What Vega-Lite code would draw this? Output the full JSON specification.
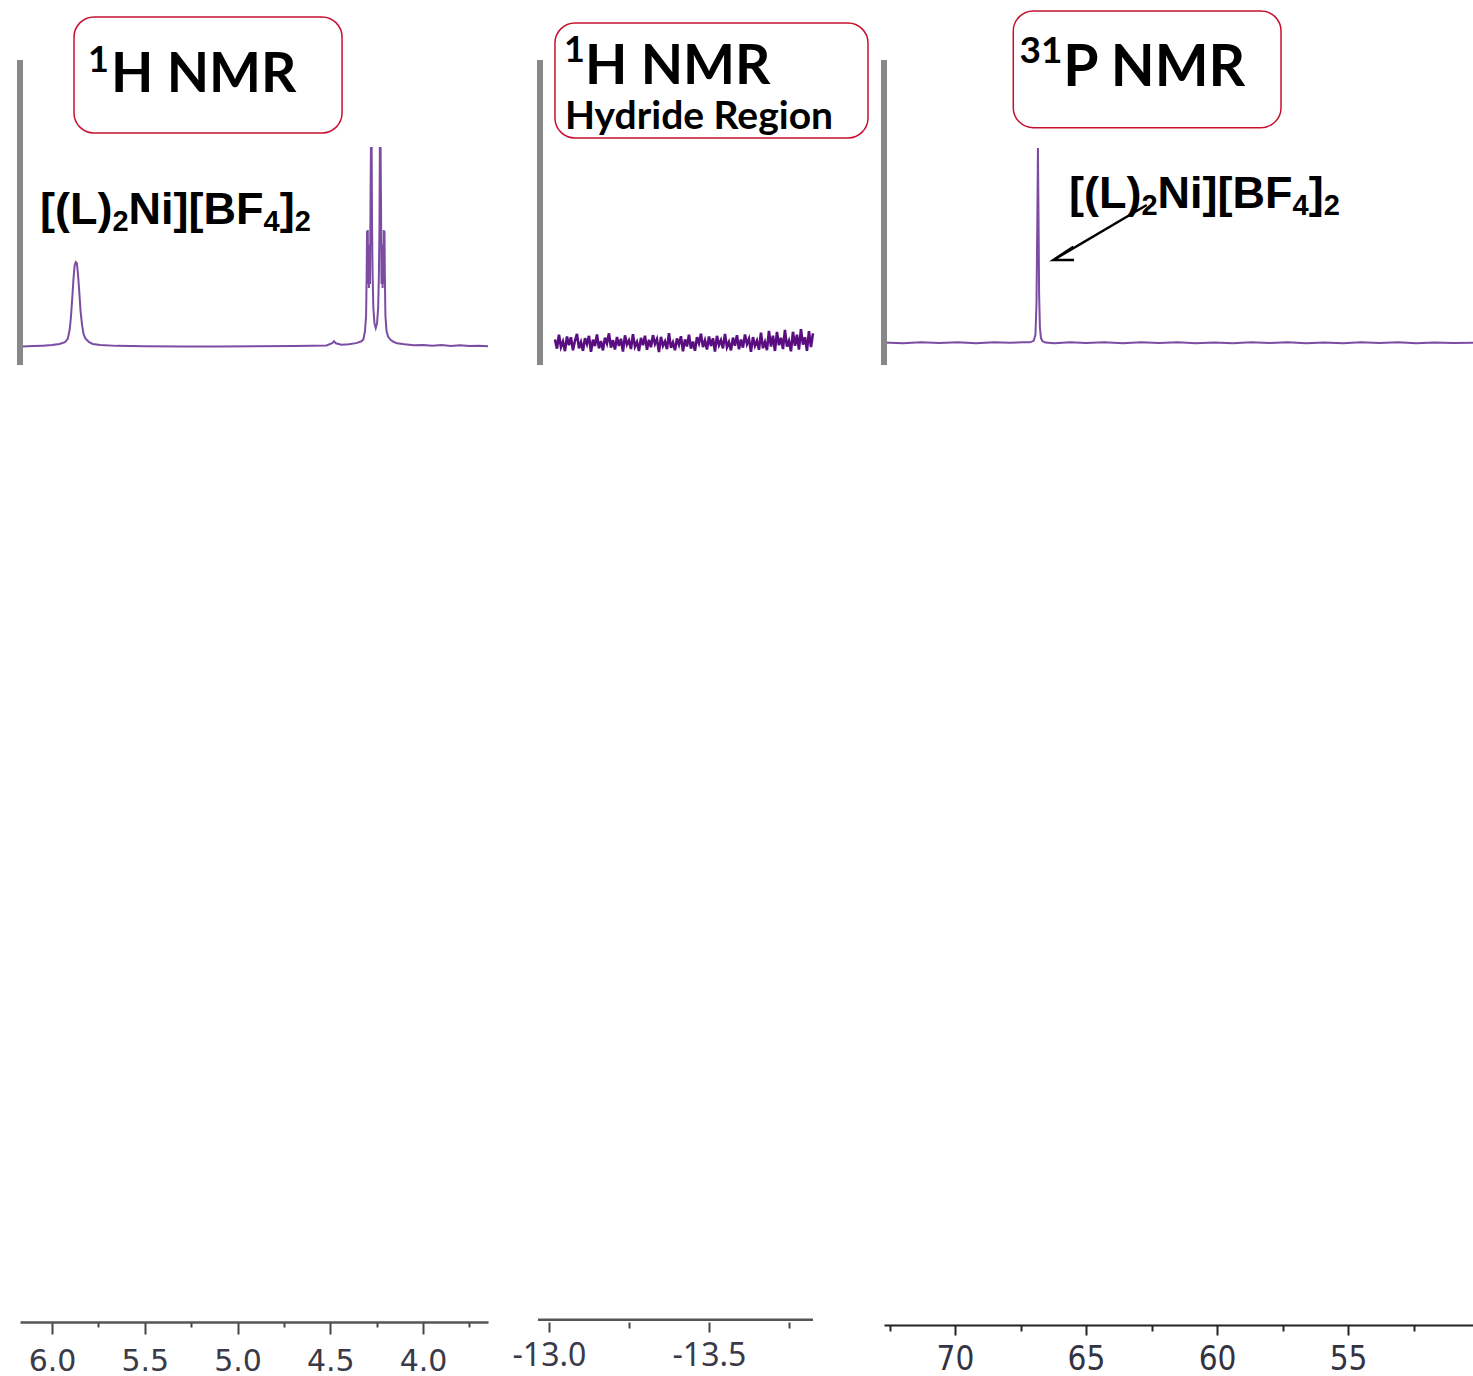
{
  "$schema": "https://vega.github.io/schema/vega-lite/v6.json",
  "background": "white",
  "padding": {"left": 17, "right": 0, "top": 0, "bottom": 0},
  "autosize": {"type": "pad"},
  "spacing": 52,
  "bounds": "flush",
  "config": {"view": {"stroke": null}, "axis": {"grid": false}},
  "hconcat": [
    {
      "width": 468,
      "height": 1322,
      "encoding": {
        "x": {"field": "ppm", "type": "quantitative", "scale": {"domain": [6.1725, 3.65], "nice": false, "zero": false},
          "axis": {"values": [6.0, 5.75, 5.5, 5.25, 5.0, 4.75, 4.5, 4.25, 4.0, 3.75],
            "labelExpr": "abs(datum.value*2-round(datum.value*2))<0.001 ? format(datum.value,'.1f') : ''",
            "title": null, "grid": false, "domainColor": "#555555", "domainWidth": 2.5, "tickColor": "#444444", "tickWidth": 2,
            "tickSize": {"condition": {"test": "abs(datum.value*2-round(datum.value*2))<0.001", "value": 12}, "value": 5},
            "labelFont": "DejaVu Sans", "labelFontSize": 30, "labelColor": "#3a3a48", "labelPadding": 12, "labelFlush": false, "labelOverlap": false}},
        "y": {"field": "v", "type": "quantitative", "scale": {"domain": [-500, 175], "nice": false, "zero": false}, "axis": null}
      },
      "layer": [
        {
          "data": {"values": [
            {"ppm": 6.162, "v": -1.9}, {"ppm": 6.10, "v": -1.7}, {"ppm": 6.05, "v": -1.5}, {"ppm": 6.00, "v": -1.2}, {"ppm": 5.96, "v": -0.6},
            {"ppm": 5.93, "v": 0.3}, {"ppm": 5.915, "v": 2.0}, {"ppm": 5.905, "v": 6.5}, {"ppm": 5.898, "v": 13.0}, {"ppm": 5.890, "v": 24.0},
            {"ppm": 5.884, "v": 33.0}, {"ppm": 5.878, "v": 39.5}, {"ppm": 5.872, "v": 41.2}, {"ppm": 5.866, "v": 40.6}, {"ppm": 5.860, "v": 35.0},
            {"ppm": 5.853, "v": 26.0}, {"ppm": 5.846, "v": 16.0}, {"ppm": 5.838, "v": 9.0}, {"ppm": 5.830, "v": 4.5}, {"ppm": 5.820, "v": 2.2},
            {"ppm": 5.80, "v": 0.3}, {"ppm": 5.78, "v": -0.6}, {"ppm": 5.74, "v": -1.2}, {"ppm": 5.65, "v": -1.6}, {"ppm": 5.50, "v": -1.8},
            {"ppm": 5.30, "v": -1.9}, {"ppm": 5.10, "v": -1.9}, {"ppm": 4.90, "v": -1.8}, {"ppm": 4.70, "v": -1.7}, {"ppm": 4.60, "v": -1.6},
            {"ppm": 4.52, "v": -1.4}, {"ppm": 4.49, "v": -0.2}, {"ppm": 4.48, "v": 0.8}, {"ppm": 4.47, "v": -0.3}, {"ppm": 4.44, "v": -1.0},
            {"ppm": 4.40, "v": -0.8}, {"ppm": 4.36, "v": -0.2}, {"ppm": 4.335, "v": 0.6}, {"ppm": 4.322, "v": 1.6}, {"ppm": 4.313, "v": 6.0},
            {"ppm": 4.307, "v": 14.0}, {"ppm": 4.304, "v": 35.0}, {"ppm": 4.302, "v": 57.0}, {"ppm": 4.300, "v": 32.0}, {"ppm": 4.298, "v": 57.5},
            {"ppm": 4.296, "v": 30.0}, {"ppm": 4.294, "v": 50.0}, {"ppm": 4.292, "v": 28.0}, {"ppm": 4.289, "v": 45.0}, {"ppm": 4.286, "v": 30.0},
            {"ppm": 4.283, "v": 75.0}, {"ppm": 4.281, "v": 99.9}, {"ppm": 4.279, "v": 70.0}, {"ppm": 4.277, "v": 99.9}, {"ppm": 4.275, "v": 60.0},
            {"ppm": 4.272, "v": 35.0}, {"ppm": 4.268, "v": 18.0}, {"ppm": 4.262, "v": 10.0}, {"ppm": 4.255, "v": 7.5}, {"ppm": 4.248, "v": 10.0},
            {"ppm": 4.242, "v": 18.0}, {"ppm": 4.238, "v": 35.0}, {"ppm": 4.235, "v": 60.0}, {"ppm": 4.233, "v": 99.9}, {"ppm": 4.231, "v": 70.0},
            {"ppm": 4.229, "v": 99.9}, {"ppm": 4.227, "v": 75.0}, {"ppm": 4.224, "v": 30.0}, {"ppm": 4.221, "v": 45.0}, {"ppm": 4.218, "v": 28.0},
            {"ppm": 4.216, "v": 50.0}, {"ppm": 4.214, "v": 30.0}, {"ppm": 4.212, "v": 57.5}, {"ppm": 4.210, "v": 32.0}, {"ppm": 4.208, "v": 57.0},
            {"ppm": 4.206, "v": 35.0}, {"ppm": 4.203, "v": 14.0}, {"ppm": 4.197, "v": 6.0}, {"ppm": 4.188, "v": 3.0}, {"ppm": 4.175, "v": 1.5},
            {"ppm": 4.160, "v": 0.5}, {"ppm": 4.140, "v": -0.3}, {"ppm": 4.10, "v": -0.8}, {"ppm": 4.05, "v": -1.3}, {"ppm": 4.00, "v": -1.1},
            {"ppm": 3.95, "v": -1.5}, {"ppm": 3.90, "v": -1.2}, {"ppm": 3.85, "v": -1.6}, {"ppm": 3.80, "v": -1.3}, {"ppm": 3.75, "v": -1.7},
            {"ppm": 3.70, "v": -1.5}, {"ppm": 3.65, "v": -1.8}
          ]},
          "mark": {"type": "line", "color": "#7b4ca2", "strokeWidth": 2}
        },
        {
          "data": {"values": [{"ppm": 6.1725, "v": 144.4, "v2": -11.4}]},
          "mark": {"type": "rule", "color": "#888888", "strokeWidth": 6},
          "encoding": {"y2": {"field": "v2"}}
        },
        {
          "data": {"values": [{"ppm": 5.8814, "ppm2": 4.4367, "v": 166.32, "v2": 107.09}]},
          "mark": {"type": "rect", "fill": "white", "stroke": "#c8102e", "strokeWidth": 1.5, "cornerRadius": 20},
          "encoding": {"x2": {"field": "ppm2"}, "y2": {"field": "v2"}}
        },
        {
          "data": {"values": [{"ppm": 5.682, "v": 128.03, "label": "H NMR"}]},
          "mark": {"type": "text", "font": "Lato", "fontWeight": "bold", "fontSize": 55, "align": "left", "baseline": "alphabetic", "color": "black"},
          "encoding": {"text": {"field": "label"}}
        },
        {
          "data": {"values": [{"ppm": 5.806, "v": 138.39, "label": "1"}]},
          "mark": {"type": "text", "font": "Lato", "fontWeight": "bold", "fontSize": 36, "align": "left", "baseline": "alphabetic", "color": "black"},
          "encoding": {"text": {"field": "label"}}
        },
        {
          "data": {"values": [{"ppm": 6.0647, "v": 60.63}]},
          "layer": [
            {"mark": {"type": "text", "text": "[(L)", "font": "Liberation Sans", "fontWeight": "bold", "fontSize": 45, "align": "left", "baseline": "alphabetic", "color": "black"}},
            {"mark": {"type": "text", "text": "2", "dx": 72.5, "dy": 7, "font": "Liberation Sans", "fontWeight": "bold", "fontSize": 29, "align": "left", "baseline": "alphabetic", "color": "black"}},
            {"mark": {"type": "text", "text": "Ni][BF", "dx": 88.6, "font": "Liberation Sans", "fontWeight": "bold", "fontSize": 45, "align": "left", "baseline": "alphabetic", "color": "black"}},
            {"mark": {"type": "text", "text": "4", "dx": 223.6, "dy": 7, "font": "Liberation Sans", "fontWeight": "bold", "fontSize": 29, "align": "left", "baseline": "alphabetic", "color": "black"}},
            {"mark": {"type": "text", "text": "]", "dx": 239.7, "font": "Liberation Sans", "fontWeight": "bold", "fontSize": 45, "align": "left", "baseline": "alphabetic", "color": "black"}},
            {"mark": {"type": "text", "text": "2", "dx": 254.7, "dy": 7, "font": "Liberation Sans", "fontWeight": "bold", "fontSize": 29, "align": "left", "baseline": "alphabetic", "color": "black"}}
          ]
        }
      ]
    },
    {
      "width": 292,
      "height": 1322,
      "encoding": {
        "x": {"field": "ppm", "type": "quantitative", "scale": {"domain": [-12.972, -13.8845], "nice": false, "zero": false},
          "axis": {"values": [-13.0, -13.25, -13.5, -13.75],
            "labelExpr": "abs(datum.value*2-round(datum.value*2))<0.001 ? '-' + format(abs(datum.value),'.1f') : ''",
            "title": null, "grid": false, "domain": false, "tickColor": "#444444", "tickWidth": 2,
            "tickSize": {"condition": {"test": "abs(datum.value*2-round(datum.value*2))<0.001", "value": 10}, "value": 6},
            "labelFont": "Noto Sans", "labelFontSize": 32, "labelColor": "#3a3a48", "labelPadding": 8, "labelFlush": false, "labelOverlap": false}},
        "y": {"field": "v", "type": "quantitative", "scale": {"domain": [-500, 175], "nice": false, "zero": false}, "axis": null}
      },
      "layer": [
        {
          "data": {"values": [{"ppm": -12.9656, "ppm2": -13.825, "v": -498.8}]},
          "mark": {"type": "rule", "color": "#555555", "strokeWidth": 2.5},
          "encoding": {"x2": {"field": "ppm2"}}
        },
        {
          "data": {"values": [
            {"ppm": -13.01875, "v": 1.7}, {"ppm": -13.025, "v": -3.0}, {"ppm": -13.03125, "v": 4.1}, {"ppm": -13.0375, "v": -2.2}, {"ppm": -13.04375, "v": 0.6},
            {"ppm": -13.05, "v": -4.3}, {"ppm": -13.05625, "v": 3.2}, {"ppm": -13.0625, "v": -1.2}, {"ppm": -13.06875, "v": 2.8}, {"ppm": -13.075, "v": -3.8},
            {"ppm": -13.08125, "v": 1.0}, {"ppm": -13.0875, "v": 4.5}, {"ppm": -13.09375, "v": -2.8}, {"ppm": -13.1, "v": 0.3}, {"ppm": -13.10625, "v": -4.1},
            {"ppm": -13.1125, "v": 2.3}, {"ppm": -13.11875, "v": -0.7}, {"ppm": -13.125, "v": 3.5}, {"ppm": -13.13125, "v": -4.6}, {"ppm": -13.1375, "v": 1.6},
            {"ppm": -13.14375, "v": -1.7}, {"ppm": -13.15, "v": 4.2}, {"ppm": -13.15625, "v": -2.9}, {"ppm": -13.1625, "v": 0.9}, {"ppm": -13.16875, "v": -3.9},
            {"ppm": -13.175, "v": 2.6}, {"ppm": -13.18125, "v": -0.4}, {"ppm": -13.1875, "v": 4.8}, {"ppm": -13.19375, "v": -2.5}, {"ppm": -13.2, "v": 1.3},
            {"ppm": -13.20625, "v": -3.5}, {"ppm": -13.2125, "v": 2.9}, {"ppm": -13.21875, "v": -1.6}, {"ppm": -13.225, "v": 2.0}, {"ppm": -13.23125, "v": -4.5},
            {"ppm": -13.2375, "v": 3.8}, {"ppm": -13.24375, "v": -0.9}, {"ppm": -13.25, "v": 1.2}, {"ppm": -13.25625, "v": -3.2}, {"ppm": -13.2625, "v": 4.4},
            {"ppm": -13.26875, "v": -2.0}, {"ppm": -13.275, "v": 0.4}, {"ppm": -13.28125, "v": -4.2}, {"ppm": -13.2875, "v": 2.5}, {"ppm": -13.29375, "v": -1.3},
            {"ppm": -13.3, "v": 3.6}, {"ppm": -13.30625, "v": -3.6}, {"ppm": -13.3125, "v": 1.5}, {"ppm": -13.31875, "v": -2.3}, {"ppm": -13.325, "v": 3.9},
            {"ppm": -13.33125, "v": -0.6}, {"ppm": -13.3375, "v": 1.9}, {"ppm": -13.34375, "v": -4.8}, {"ppm": -13.35, "v": 3.0}, {"ppm": -13.35625, "v": -1.5},
            {"ppm": -13.3625, "v": 0.7}, {"ppm": -13.36875, "v": -3.3}, {"ppm": -13.375, "v": 4.9}, {"ppm": -13.38125, "v": -2.6}, {"ppm": -13.3875, "v": 0.1},
            {"ppm": -13.39375, "v": -3.8}, {"ppm": -13.4, "v": 2.2}, {"ppm": -13.40625, "v": -1.0}, {"ppm": -13.4125, "v": 3.3}, {"ppm": -13.41875, "v": -4.4},
            {"ppm": -13.425, "v": 1.7}, {"ppm": -13.43125, "v": -1.9}, {"ppm": -13.4375, "v": 4.1}, {"ppm": -13.44375, "v": -3.0}, {"ppm": -13.45, "v": 0.6},
            {"ppm": -13.45625, "v": -4.1}, {"ppm": -13.4625, "v": 2.8}, {"ppm": -13.46875, "v": -0.3}, {"ppm": -13.475, "v": 4.6}, {"ppm": -13.48125, "v": -2.2},
            {"ppm": -13.4875, "v": 1.2}, {"ppm": -13.49375, "v": -3.5}, {"ppm": -13.5, "v": 3.2}, {"ppm": -13.50625, "v": -1.7}, {"ppm": -13.5125, "v": 2.3},
            {"ppm": -13.51875, "v": -4.5}, {"ppm": -13.525, "v": 3.5}, {"ppm": -13.53125, "v": -1.2}, {"ppm": -13.5375, "v": 1.3}, {"ppm": -13.54375, "v": -2.9},
            {"ppm": -13.55, "v": 4.5}, {"ppm": -13.55625, "v": -2.3}, {"ppm": -13.5625, "v": 0.3}, {"ppm": -13.56875, "v": -3.9}, {"ppm": -13.575, "v": 2.6},
            {"ppm": -13.58125, "v": -1.5}, {"ppm": -13.5875, "v": 3.8}, {"ppm": -13.59375, "v": -3.3}, {"ppm": -13.6, "v": 1.6}, {"ppm": -13.60625, "v": -2.5},
            {"ppm": -13.6125, "v": 4.2}, {"ppm": -13.61875, "v": -0.7}, {"ppm": -13.625, "v": 2.0}, {"ppm": -13.63125, "v": -4.6}, {"ppm": -13.6375, "v": 2.9},
            {"ppm": -13.64375, "v": -1.6}, {"ppm": -13.65, "v": 1.0}, {"ppm": -13.65625, "v": -3.6}, {"ppm": -13.6625, "v": 5.1}, {"ppm": -13.66875, "v": -2.8},
            {"ppm": -13.675, "v": 0.4}, {"ppm": -13.68125, "v": -3.8}, {"ppm": -13.6875, "v": 6.0}, {"ppm": -13.69375, "v": -1.9}, {"ppm": -13.7, "v": 3.6},
            {"ppm": -13.70625, "v": -4.2}, {"ppm": -13.7125, "v": 5.5}, {"ppm": -13.71875, "v": -1.3}, {"ppm": -13.725, "v": 2.5}, {"ppm": -13.73125, "v": -3.2},
            {"ppm": -13.7375, "v": 6.5}, {"ppm": -13.74375, "v": -2.0}, {"ppm": -13.75, "v": 0.9}, {"ppm": -13.75625, "v": -4.4}, {"ppm": -13.7625, "v": 5.6},
            {"ppm": -13.76875, "v": -1.6}, {"ppm": -13.775, "v": 4.1}, {"ppm": -13.78125, "v": -3.5}, {"ppm": -13.7875, "v": 6.9}, {"ppm": -13.79375, "v": -1.0},
            {"ppm": -13.8, "v": 2.8}, {"ppm": -13.80625, "v": -4.1}, {"ppm": -13.8125, "v": 5.9}, {"ppm": -13.81875, "v": -2.2}, {"ppm": -13.825, "v": 4.8}
          ]},
          "mark": {"type": "line", "color": "#5a0d80", "strokeWidth": 2.6}
        },
        {
          "data": {"values": [{"ppm": -12.972, "v": 144.4, "v2": -11.4}]},
          "mark": {"type": "rule", "color": "#888888", "strokeWidth": 6},
          "encoding": {"y2": {"field": "v2"}}
        },
        {
          "data": {"values": [{"ppm": -13.01875, "ppm2": -13.997, "v": 163.26, "v2": 104.54}]},
          "mark": {"type": "rect", "fill": "white", "stroke": "#c8102e", "strokeWidth": 1.5, "cornerRadius": 20},
          "encoding": {"x2": {"field": "ppm2"}, "y2": {"field": "v2"}}
        },
        {
          "data": {"values": [{"ppm": -13.1125, "v": 132.3, "label": "H NMR"}]},
          "mark": {"type": "text", "font": "Lato", "fontWeight": "bold", "fontSize": 55, "align": "left", "baseline": "alphabetic", "color": "black"},
          "encoding": {"text": {"field": "label"}}
        },
        {
          "data": {"values": [{"ppm": -13.047, "v": 143.3, "label": "1"}]},
          "mark": {"type": "text", "font": "Lato", "fontWeight": "bold", "fontSize": 36, "align": "left", "baseline": "alphabetic", "color": "black"},
          "encoding": {"text": {"field": "label"}}
        },
        {
          "data": {"values": [{"ppm": -13.05, "v": 108.9, "label": "Hydride Region"}]},
          "mark": {"type": "text", "font": "Lato", "fontWeight": "bold", "fontSize": 39, "align": "left", "baseline": "alphabetic", "color": "black"},
          "encoding": {"text": {"field": "label"}}
        }
      ]
    },
    {
      "width": 589,
      "height": 1325,
      "encoding": {
        "x": {"field": "ppm", "type": "quantitative", "scale": {"domain": [72.71, 50.23], "nice": false, "zero": false},
          "axis": {"values": [72.5, 70, 67.5, 65, 62.5, 60, 57.5, 55, 52.5],
            "labelExpr": "datum.value % 5 === 0 ? format(datum.value,'d') : ''",
            "title": null, "grid": false, "domainColor": "#222222", "domainWidth": 2.2, "tickColor": "#222222", "tickWidth": 2,
            "tickSize": {"condition": {"test": "datum.value % 5 === 0", "value": 10}, "value": 6},
            "labelFont": "Liberation Sans Narrow, DejaVu Sans Condensed, Liberation Sans", "labelFontSize": 33, "labelColor": "#33333f", "labelPadding": 8, "labelFlush": false, "labelOverlap": false}},
        "y": {"field": "v", "type": "quantitative", "scale": {"domain": [-501.5, 175], "nice": false, "zero": false}, "axis": null}
      },
      "layer": [
        {
          "data": {"values": [
            {"ppm": 72.71, "v": 0.1}, {"ppm": 72.0, "v": -0.2}, {"ppm": 71.3, "v": 0.3}, {"ppm": 70.6, "v": -0.1}, {"ppm": 69.9, "v": 0.2},
            {"ppm": 69.2, "v": -0.3}, {"ppm": 68.5, "v": 0.2}, {"ppm": 67.9, "v": 0.0}, {"ppm": 67.4, "v": 0.3}, {"ppm": 67.14, "v": 0.2},
            {"ppm": 67.0, "v": 1.0}, {"ppm": 66.93, "v": 4.0}, {"ppm": 66.89, "v": 20.0}, {"ppm": 66.86, "v": 60.0}, {"ppm": 66.835, "v": 99.4},
            {"ppm": 66.81, "v": 60.0}, {"ppm": 66.79, "v": 25.0}, {"ppm": 66.76, "v": 8.0}, {"ppm": 66.72, "v": 2.5}, {"ppm": 66.66, "v": 0.8},
            {"ppm": 66.55, "v": 0.1}, {"ppm": 66.2, "v": -0.2}, {"ppm": 65.6, "v": 0.2}, {"ppm": 65.0, "v": -0.1}, {"ppm": 64.3, "v": 0.3},
            {"ppm": 63.6, "v": -0.2}, {"ppm": 62.9, "v": 0.2}, {"ppm": 62.2, "v": -0.1}, {"ppm": 61.5, "v": 0.3}, {"ppm": 60.8, "v": -0.2},
            {"ppm": 60.1, "v": 0.1}, {"ppm": 59.4, "v": -0.3}, {"ppm": 58.7, "v": 0.2}, {"ppm": 58.0, "v": -0.1}, {"ppm": 57.3, "v": 0.3},
            {"ppm": 56.6, "v": -0.2}, {"ppm": 55.9, "v": 0.1}, {"ppm": 55.2, "v": -0.2}, {"ppm": 54.5, "v": 0.2}, {"ppm": 53.8, "v": -0.1},
            {"ppm": 53.1, "v": 0.2}, {"ppm": 52.4, "v": -0.2}, {"ppm": 51.7, "v": 0.1}, {"ppm": 51.0, "v": -0.1}, {"ppm": 50.23, "v": 0.0}
          ]},
          "mark": {"type": "line", "color": "#7b4ca2", "strokeWidth": 2}
        },
        {
          "data": {"values": [{"ppm": 72.71, "v": 144.4, "v2": -11.4}]},
          "mark": {"type": "rule", "color": "#888888", "strokeWidth": 6},
          "encoding": {"y2": {"field": "v2"}}
        },
        {
          "data": {"values": [{"ppm": 67.775, "ppm2": 57.557, "v": 169.38, "v2": 109.8}]},
          "mark": {"type": "rect", "fill": "white", "stroke": "#c8102e", "strokeWidth": 1.5, "cornerRadius": 20},
          "encoding": {"x2": {"field": "ppm2"}, "y2": {"field": "v2"}}
        },
        {
          "data": {"values": [{"ppm": 65.87, "v": 131.09, "label": "P NMR"}]},
          "mark": {"type": "text", "font": "Lato", "fontWeight": "bold", "fontSize": 57, "align": "left", "baseline": "alphabetic", "color": "black"},
          "encoding": {"text": {"field": "label"}}
        },
        {
          "data": {"values": [{"ppm": 67.538, "v": 142.83, "label": "31"}]},
          "mark": {"type": "text", "font": "Lato", "fontWeight": "bold", "fontSize": 37, "align": "left", "baseline": "alphabetic", "color": "black"},
          "encoding": {"text": {"field": "label"}}
        },
        {
          "data": {"values": [{"ppm": 65.649, "v": 68.8}]},
          "layer": [
            {"mark": {"type": "text", "text": "[(L)", "font": "Liberation Sans", "fontWeight": "bold", "fontSize": 45, "align": "left", "baseline": "alphabetic", "color": "black"}},
            {"mark": {"type": "text", "text": "2", "dx": 72.5, "dy": 7, "font": "Liberation Sans", "fontWeight": "bold", "fontSize": 29, "align": "left", "baseline": "alphabetic", "color": "black"}},
            {"mark": {"type": "text", "text": "Ni][BF", "dx": 88.6, "font": "Liberation Sans", "fontWeight": "bold", "fontSize": 45, "align": "left", "baseline": "alphabetic", "color": "black"}},
            {"mark": {"type": "text", "text": "4", "dx": 223.6, "dy": 7, "font": "Liberation Sans", "fontWeight": "bold", "fontSize": 29, "align": "left", "baseline": "alphabetic", "color": "black"}},
            {"mark": {"type": "text", "text": "]", "dx": 239.7, "font": "Liberation Sans", "fontWeight": "bold", "fontSize": 45, "align": "left", "baseline": "alphabetic", "color": "black"}},
            {"mark": {"type": "text", "text": "2", "dx": 254.7, "dy": 7, "font": "Liberation Sans", "fontWeight": "bold", "fontSize": 29, "align": "left", "baseline": "alphabetic", "color": "black"}}
          ]
        },
        {
          "data": {"values": [
            {"i": 0, "ppm": 62.683, "v": 70.33}, {"i": 1, "ppm": 66.248, "v": 42.24}, {"i": 2, "ppm": 65.485, "v": 49.04},
            {"i": 3, "ppm": 66.248, "v": 42.24}, {"i": 4, "ppm": 65.458, "v": 42.24}
          ]},
          "mark": {"type": "line", "color": "black", "strokeWidth": 2.5},
          "encoding": {"order": {"field": "i", "type": "quantitative"}}
        }
      ]
    }
  ]
}
